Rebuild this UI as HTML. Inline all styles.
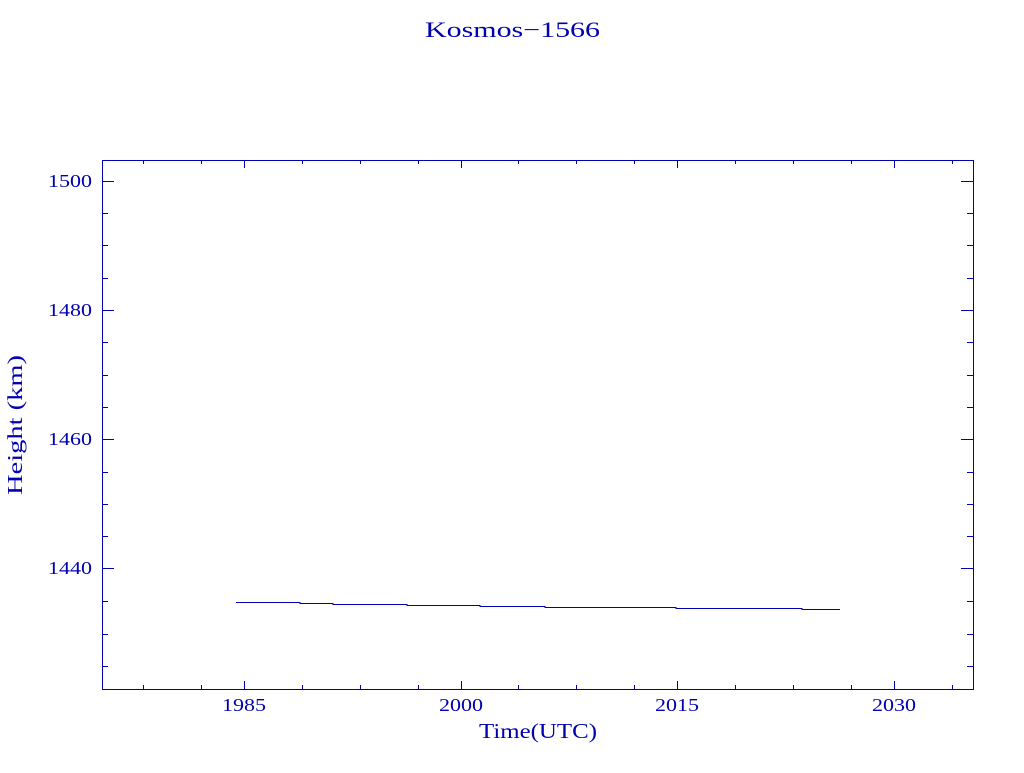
<!DOCTYPE html>
<html><head><style>body{margin:0;background:#fff}</style></head><body>
<svg width="1024" height="768" xmlns="http://www.w3.org/2000/svg" font-family="Liberation Serif, serif" fill="#0000b0">
<rect x="102.5" y="160.5" width="871" height="529" fill="none" stroke="#0000b0" stroke-width="1"/>
<g stroke="#0000b0" stroke-width="1">
<path d="M244.5 689v-8M461.5 689v-8M677.5 689v-8M894.5 689v-8M244.5 160v8M461.5 160v8M677.5 160v8M894.5 160v8"/>
<path d="M143.5 689v-4M201.5 689v-4M302.5 689v-4M360.5 689v-4M418.5 689v-4M518.5 689v-4M576.5 689v-4M634.5 689v-4M735.5 689v-4M793.5 689v-4M851.5 689v-4M952.5 689v-4M143.5 160v4M201.5 160v4M302.5 160v4M360.5 160v4M418.5 160v4M518.5 160v4M576.5 160v4M634.5 160v4M735.5 160v4M793.5 160v4M851.5 160v4M952.5 160v4"/>
<path d="M102 181.5h12M102 310.5h12M102 439.5h12M102 568.5h12M973 181.5h-12M973 310.5h-12M973 439.5h-12M973 568.5h-12"/>
<path d="M102 213.5h6M102 245.5h6M102 278.5h6M102 342.5h6M102 375.5h6M102 407.5h6M102 472.5h6M102 504.5h6M102 536.5h6M102 601.5h6M102 634.5h6M102 666.5h6M973 213.5h-6M973 245.5h-6M973 278.5h-6M973 342.5h-6M973 375.5h-6M973 407.5h-6M973 472.5h-6M973 504.5h-6M973 536.5h-6M973 601.5h-6M973 634.5h-6M973 666.5h-6"/>
<path fill="none" d="M236 602.5H300V603.5H333V604.5H407V605.5H480V606.5H545V607.5H676V608.5H802V609.5H840"/>
</g>
<g font-size="18">
<text x="222" y="711" textLength="44" lengthAdjust="spacingAndGlyphs">1985</text>
<text x="439" y="711" textLength="44" lengthAdjust="spacingAndGlyphs">2000</text>
<text x="655" y="711" textLength="44" lengthAdjust="spacingAndGlyphs">2015</text>
<text x="872" y="711" textLength="44" lengthAdjust="spacingAndGlyphs">2030</text>
<text x="48" y="187" textLength="44" lengthAdjust="spacingAndGlyphs">1500</text>
<text x="48" y="316" textLength="44" lengthAdjust="spacingAndGlyphs">1480</text>
<text x="48" y="445" textLength="44" lengthAdjust="spacingAndGlyphs">1460</text>
<text x="48" y="574" textLength="44" lengthAdjust="spacingAndGlyphs">1440</text>
</g>
<text x="479" y="738" font-size="21" textLength="118" lengthAdjust="spacingAndGlyphs">Time(UTC)</text>
<text transform="translate(22,495) rotate(-90)" font-size="21" textLength="140" lengthAdjust="spacingAndGlyphs">Height (km)</text>
<text x="425" y="37" font-size="22" textLength="175" lengthAdjust="spacingAndGlyphs">Kosmos−1566</text>
</svg>
</body></html>
